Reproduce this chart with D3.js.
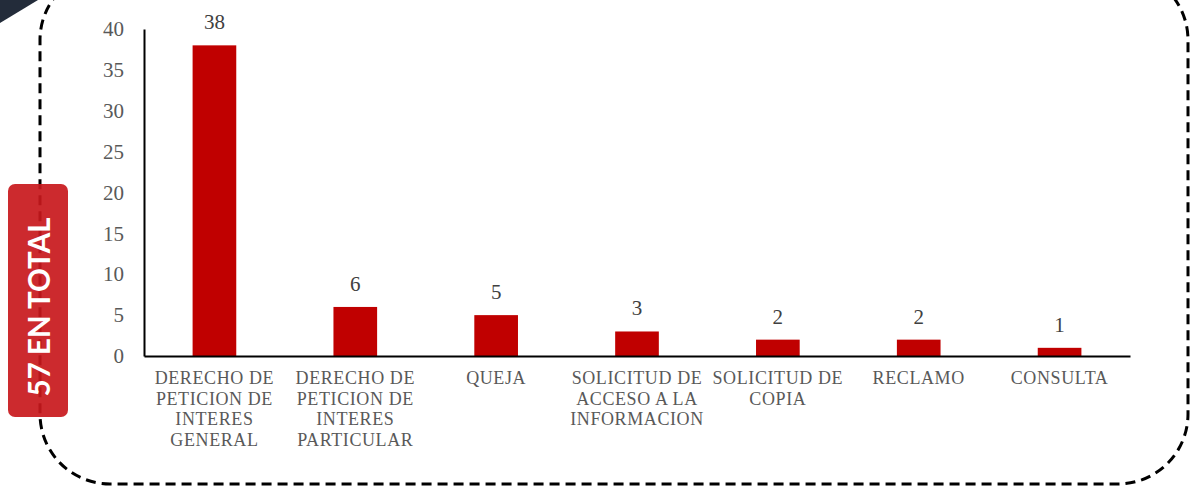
<!DOCTYPE html>
<html>
<head>
<meta charset="utf-8">
<script src="https://cdn.jsdelivr.net/npm/d3@7"></script>
<style>
  html, body { margin: 0; padding: 0; background: #fff; }
  svg { display: block; }
</style>
</head>
<body>
<div id="chart"></div>
<script>
const categories = [
  ['DERECHO DE', 'PETICION DE', 'INTERES', 'GENERAL'],
  ['DERECHO DE', 'PETICION DE', 'INTERES', 'PARTICULAR'],
  ['QUEJA'],
  ['SOLICITUD DE', 'ACCESO A LA', 'INFORMACION'],
  ['SOLICITUD DE', 'COPIA'],
  ['RECLAMO'],
  ['CONSULTA']
]
const values = [38, 6, 5, 3, 2, 2, 1]
const yTicks = [0, 5, 10, 15, 20, 25, 30, 35, 40]
const totalLabel = '57 EN TOTAL'

const width = 1192, height = 490
const M = { left: 144, right: 62, top: 29, bottom: 134 }
const W = width - M.left - M.right
const H = height - M.top - M.bottom
const serif = '"Liberation Serif", "DejaVu Serif", serif'

const svg = d3.select('#chart').append('svg')
  .attr('width', width).attr('height', height)

// dashed rounded frame
svg.append('rect')
  .attr('x', 40).attr('y', -30)
  .attr('width', 1148).attr('height', 514)
  .attr('rx', 70).attr('ry', 70)
  .attr('fill', 'none').attr('stroke', '#000')
  .attr('stroke-width', 3).attr('stroke-dasharray', '10 6')

// dark corner shape
svg.append('path')
  .attr('d', 'M0,0 L38,0 L0,23 Z')
  .attr('fill', '#232c3a')

// badge
const badge = svg.append('g').attr('transform', 'translate(8,184)')
badge.append('rect')
  .attr('width', 60).attr('height', 233).attr('rx', 7)
  .attr('fill', '#c8181c').attr('fill-opacity', 0.92)
badge.append('text')
  .attr('transform', 'translate(31,123) rotate(-90)')
  .attr('text-anchor', 'middle').attr('dy', '0.36em')
  .attr('fill', '#fff')
  .style('font-family', 'Lato, "Open Sans", sans-serif')
  .style('font-weight', 700).style('font-size', '29.5px')
  .text(totalLabel)

const g = svg.append('g').attr('transform', `translate(${M.left},${M.top})`)

const x = d3.scaleBand().domain(d3.range(categories.length)).range([0, W]).paddingInner(0.69).paddingOuter(0.345)
const y = d3.scaleLinear().domain([0, 40]).range([H, 0])

// bars
g.selectAll('.bar').data(values)
  .join('rect').attr('class', 'bar')
  .attr('x', (d, i) => x(i)).attr('width', x.bandwidth())
  .attr('y', d => y(d)).attr('height', d => H - y(d))
  .attr('fill', '#c00000')

// value labels
g.selectAll('.val').data(values)
  .join('text').attr('class', 'val')
  .attr('x', (d, i) => x(i) + x.bandwidth() / 2)
  .attr('y', d => y(d) - 16)
  .attr('text-anchor', 'middle')
  .attr('fill', '#404040')
  .style('font-family', serif).style('font-size', '21px')
  .text(d => d)

// y axis
const gy = g.append('g').call(d3.axisLeft(y).tickValues(yTicks).tickSize(0).tickPadding(20))
gy.select('.domain').attr('stroke', '#000').attr('stroke-width', 2)
gy.selectAll('text').attr('fill', '#595959')
  .style('font-family', serif).style('font-size', '21px')

// x axis
const gx = g.append('g').attr('transform', `translate(0,${H})`)
  .call(d3.axisBottom(x).tickSize(0).tickFormat(''))
gx.select('.domain').attr('stroke', '#000').attr('stroke-width', 2)
gx.selectAll('.tick').each(function (i) {
  const t = d3.select(this).append('text')
    .attr('y', 28).attr('text-anchor', 'middle')
    .attr('fill', '#595959')
    .style('font-family', serif).style('font-size', '18px')
    .style('letter-spacing', '0.6px')
  categories[i].forEach((line, k) => {
    t.append('tspan').attr('x', 0).attr('dy', k === 0 ? 0 : 20.7).text(line)
  })
})
</script>
</body>
</html>
